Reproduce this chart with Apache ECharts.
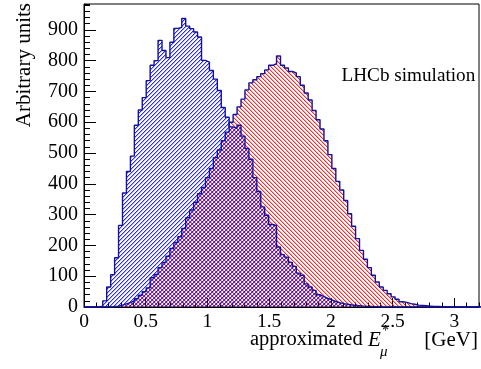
<!DOCTYPE html>
<html><head><meta charset="utf-8">
<script src="https://cdn.jsdelivr.net/npm/echarts@6/dist/echarts.min.js"></script>
<style>html,body{margin:0;padding:0;background:#fff}#c{width:481px;height:369px}</style>
</head><body><div id="c"></div>
<script>
// ---- data ----
const binStart = 0.024;   // lower edge of first bin (GeV)
const binWidth = 0.032;   // bin width (GeV)
const blueCounts = [0,0,0,3,20,65,105,160,265,370,440,490,590,640,680,735,785,800,866,833,
  810,860,905,908,937,912,904,893,877,801,795,768,740,703,648,616,585,580,590,555,
  515,480,420,375,325,298,268,265,195,170,162,145,132,110,103,75,65,54,40,34,
  28,23,18,14,11,9,7,5,4,3,2,2,1,1,0,0,0,0,0,0,
  0,0,0,0,0,0,0,0,0,0,0,0,0,0,0,0,0,0,0,0];
const redCounts = [0,0,0,0,0,0,1,3,6,10,14,20,27,38,50,62,95,106,128,145,
  165,190,210,228,255,290,315,340,368,388,420,450,485,510,540,568,600,625,650,675,
  705,728,738,748,758,770,785,790,815,785,776,765,760,748,720,695,672,638,608,578,
  540,495,450,408,380,346,303,262,222,184,155,128,103,81,65,54,43,33,25,17,
  15,11,9,6,5,4,3,2,2,1,1,0,0,0,0,0,0,0,0,0];
const xTickValues = [0,0.5,1,1.5,2,2.5,3];
const xTickLabels = ['0','0.5','1','1.5','2','2.5','3'];
const yTickValues = [0,100,200,300,400,500,600,700,800,900];
const yTickLabels = ['0','100','200','300','400','500','600','700','800','900'];
const xMin = 0, xMax = 3.2, yMin = 0, yMax = 984;

// ---- helpers ----
function stepData(counts){
  const pts = [[xMin,0]];
  counts.forEach((v,i)=>pts.push([binStart+i*binWidth, v]));
  pts.push([binStart+counts.length*binWidth, 0]);
  return pts;
}
function hatch(rgb, dir){
  const c = document.createElement('canvas'); c.width = 4; c.height = 4;
  const ctx = c.getContext('2d'); const img = ctx.createImageData(4,4);
  for(let y=0;y<4;y++) for(let x=0;x<4;x++){
    const m = dir === '/' ? (x+y)%4 : (((x-y)%4+4)%4);
    const core = dir === '/' ? 3 : 0;
    const halo = dir === '/' ? 0 : 1;
    let a = 0;
    if(m===core) a = 215; else if(m===halo) a = 80;
    if(a){ const i=(y*4+x)*4; img.data[i]=rgb[0]; img.data[i+1]=rgb[1]; img.data[i+2]=rgb[2]; img.data[i+3]=a; }
  }
  ctx.putImageData(img,0,0);
  return c;
}
const FONT_NAME = 'Liberation Serif';
const FONT = '"Liberation Serif", serif';
const lineCol = '#12129a';

const chart = echarts.init(document.getElementById('c'), null, {renderer:'canvas'});
function labelFrom(values, labels){
  return v => { for(let i=0;i<values.length;i++){ if(Math.abs(values[i]-v)<1e-6) return labels[i]; } return ''; };
}
const option = {
  backgroundColor:'#fff',
  animation:false,
  textStyle:{fontFamily:FONT_NAME},
  grid:{left:84, top:4, right:2, bottom:62, show:true, borderColor:'#000', borderWidth:1, backgroundColor:'transparent'},
  xAxis:[
    {type:'value', min:xMin, max:xMax, interval:0.5, position:'bottom',
     axisLine:{show:true, onZero:false, lineStyle:{color:'#000', width:1}},
     axisTick:{show:true, inside:true, length:9, lineStyle:{color:'#000', width:1}},
     axisLabel:{show:true, margin:5, color:'#000', fontFamily:FONT_NAME, fontSize:19.5, showMaxLabel:false,
       formatter: labelFrom(xTickValues, xTickLabels)},
     splitLine:{show:false}},
    {type:'value', min:xMin, max:xMax, interval:0.1, position:'bottom',
     axisLine:{show:false, onZero:false},
     axisTick:{show:true, inside:true, length:4.5, lineStyle:{color:'#000', width:1}},
     axisLabel:{show:false}, splitLine:{show:false}}
  ],
  yAxis:[
    {type:'value', min:yMin, max:yMax, interval:100, position:'left',
     axisLine:{show:true, onZero:false, lineStyle:{color:'#000', width:1}},
     axisTick:{show:true, inside:true, length:12, lineStyle:{color:'#000', width:1}},
     axisLabel:{show:true, margin:6, color:'#000', fontFamily:FONT_NAME, fontSize:20, showMaxLabel:false,
       formatter: labelFrom(yTickValues, yTickLabels)},
     splitLine:{show:false}},
    {type:'value', min:yMin, max:yMax, interval:20, position:'left',
     axisLine:{show:false, onZero:false},
     axisTick:{show:true, inside:true, length:6, lineStyle:{color:'#000', width:1}},
     axisLabel:{show:false}, splitLine:{show:false}}
  ],
  series:[
    {type:'line', step:'end', data:stepData(redCounts), symbol:'none', silent:true, z:2,
     lineStyle:{width:0, opacity:0},
     areaStyle:{color:{image:hatch([255,0,0],'\\'), repeat:'repeat'}, opacity:1}},
    {type:'line', step:'end', data:stepData(blueCounts), symbol:'none', silent:true, z:2,
     lineStyle:{width:0, opacity:0},
     areaStyle:{color:{image:hatch([0,0,255],'/'), repeat:'repeat'}, opacity:1}},
    {type:'line', step:'end', data:stepData(redCounts), symbol:'none', silent:true, z:3,
     lineStyle:{color:lineCol, width:1.4}},
    {type:'line', step:'end', data:stepData(blueCounts), symbol:'none', silent:true, z:3,
     lineStyle:{color:lineCol, width:1.4}}
  ],
  graphic:[
    {type:'text', x:24, y:3, rotation:Math.PI/2, silent:true,
     style:{text:'Arbitrary units', font:'21px '+FONT, fill:'#000', align:'right', verticalAlign:'middle'}},
    {type:'text', x:341.5, y:76, silent:true,
     style:{text:'LHCb simulation', font:'19.2px '+FONT, fill:'#000', align:'left', verticalAlign:'middle'}},
    {type:'text', x:250, y:340, silent:true,
     style:{text:'approximated', font:'20.5px '+FONT, fill:'#000', align:'left', verticalAlign:'middle'}},
    {type:'text', x:368, y:340, silent:true,
     style:{text:'E', font:'italic 21px '+FONT, fill:'#000', align:'left', verticalAlign:'middle'}},
    {type:'text', x:382, y:331, silent:true,
     style:{text:'*', font:'14px '+FONT, fill:'#000', align:'left', verticalAlign:'middle'}},
    {type:'text', x:380, y:352, silent:true,
     style:{text:'μ', font:'italic 15px '+FONT, fill:'#000', align:'left', verticalAlign:'middle'}},
    {type:'text', x:478, y:340, silent:true,
     style:{text:'[GeV]', font:'21px '+FONT, fill:'#000', align:'right', verticalAlign:'middle'}}
  ]
};
chart.setOption(option);
</script></body></html>
